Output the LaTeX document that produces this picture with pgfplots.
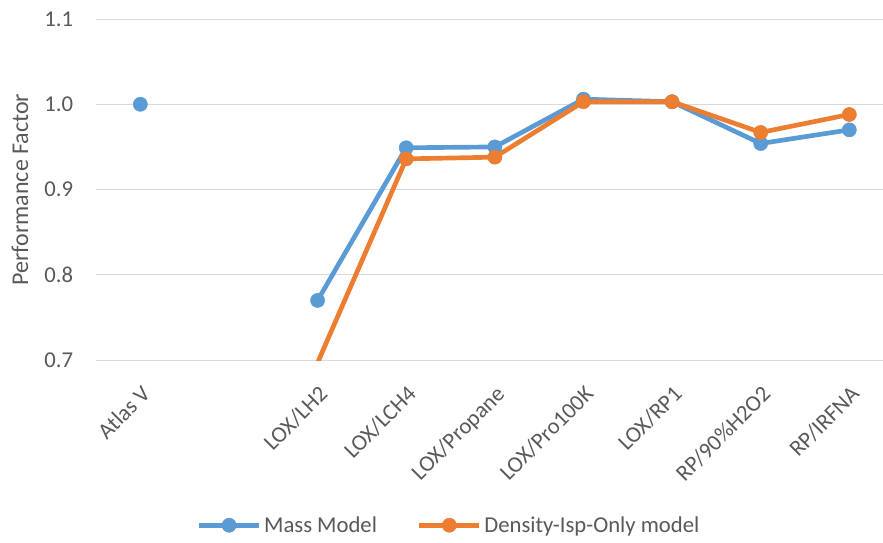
\documentclass[border=0pt]{standalone}
\usepackage{pgfplots}
\pgfplotsset{compat=1.18}
\usepackage{fontspec}
\setmainfont{Carlito}
\definecolor{massblue}{HTML}{5B9BD5}
\definecolor{ispor}{HTML}{ED7D31}
\definecolor{txtgray}{HTML}{595959}
\definecolor{gridgray}{HTML}{D9D9D9}

\begin{document}
\begin{tikzpicture}
\useasboundingbox (-72pt,-136.5pt) rectangle (590pt,270pt);
\begin{axis}[
    at={(0,0)}, anchor=south west,
    scale only axis, width=590pt, height=255.75pt,
    xmin=-0.5, xmax=8.38,
    ymin=0.7, ymax=1.1,
    ytick={0.7,0.8,0.9,1.0,1.1},
    xtick={0,1,2,3,4,5,6,7,8},
    xticklabels={Atlas V,{},LOX/LH2,LOX/LCH4,LOX/Propane,LOX/Pro100K,LOX/RP1,RP/90\%H2O2,RP/IRFNA},
    axis line style={draw=none},
    tick style={draw=none},
    ymajorgrids,
    grid style={gridgray, line width=0.75pt},
    unbounded coords=jump,
    /pgf/number format/assume math mode=true,
    ticklabel style={font=\fontsize{17}{20}\selectfont, text=txtgray},
    yticklabel style={anchor=east, inner sep=0pt, xshift=-17pt,
        /pgf/number format/fixed, /pgf/number format/fixed zerofill, /pgf/number format/precision=1},
    xticklabel style={inner sep=0pt, xshift=0pt, yshift=-18pt, rotate=45, anchor=north east},
    ylabel={Performance Factor},
    every axis y label/.style={at={(axis description cs:-0.0966,0.5)}, anchor=center, rotate=90,
        font=\fontsize{18}{21}\selectfont, text=txtgray},
    legend columns=2,
    legend style={at={(axis description cs:0.449,-0.484)}, anchor=center, draw=none,
        font=\fontsize{17}{20}\selectfont, text=txtgray,
        /tikz/every even column/.append style={column sep=28pt}},
    legend image code/.code={\draw[mark repeat=2, mark phase=2, #1] plot coordinates {(0pt,0pt) (22.5pt,0pt) (45pt,0pt)};},
    every axis plot/.append style={line width=3.5pt},
    mark size=5.3pt,
]
\addplot[massblue, mark=*, mark options={solid, fill=massblue, draw=massblue, line width=0.4pt}] coordinates {
    (0,1.000) (1,nan) (2,0.770) (3,0.949) (4,0.950) (5,1.006) (6,1.003) (7,0.954) (8,0.970)
};
\addlegendentry{Mass Model}
\addplot[ispor, mark=none, forget plot] coordinates {
    (2,0.697) (3,0.936)
};
\addplot[ispor, mark=*, mark options={solid, fill=ispor, draw=ispor, line width=0.4pt}] coordinates {
    (3,0.936) (4,0.938) (5,1.003) (6,1.003) (7,0.967) (8,0.988)
};
\addlegendentry{Density-Isp-Only model}
\end{axis}
\end{tikzpicture}
\end{document}
